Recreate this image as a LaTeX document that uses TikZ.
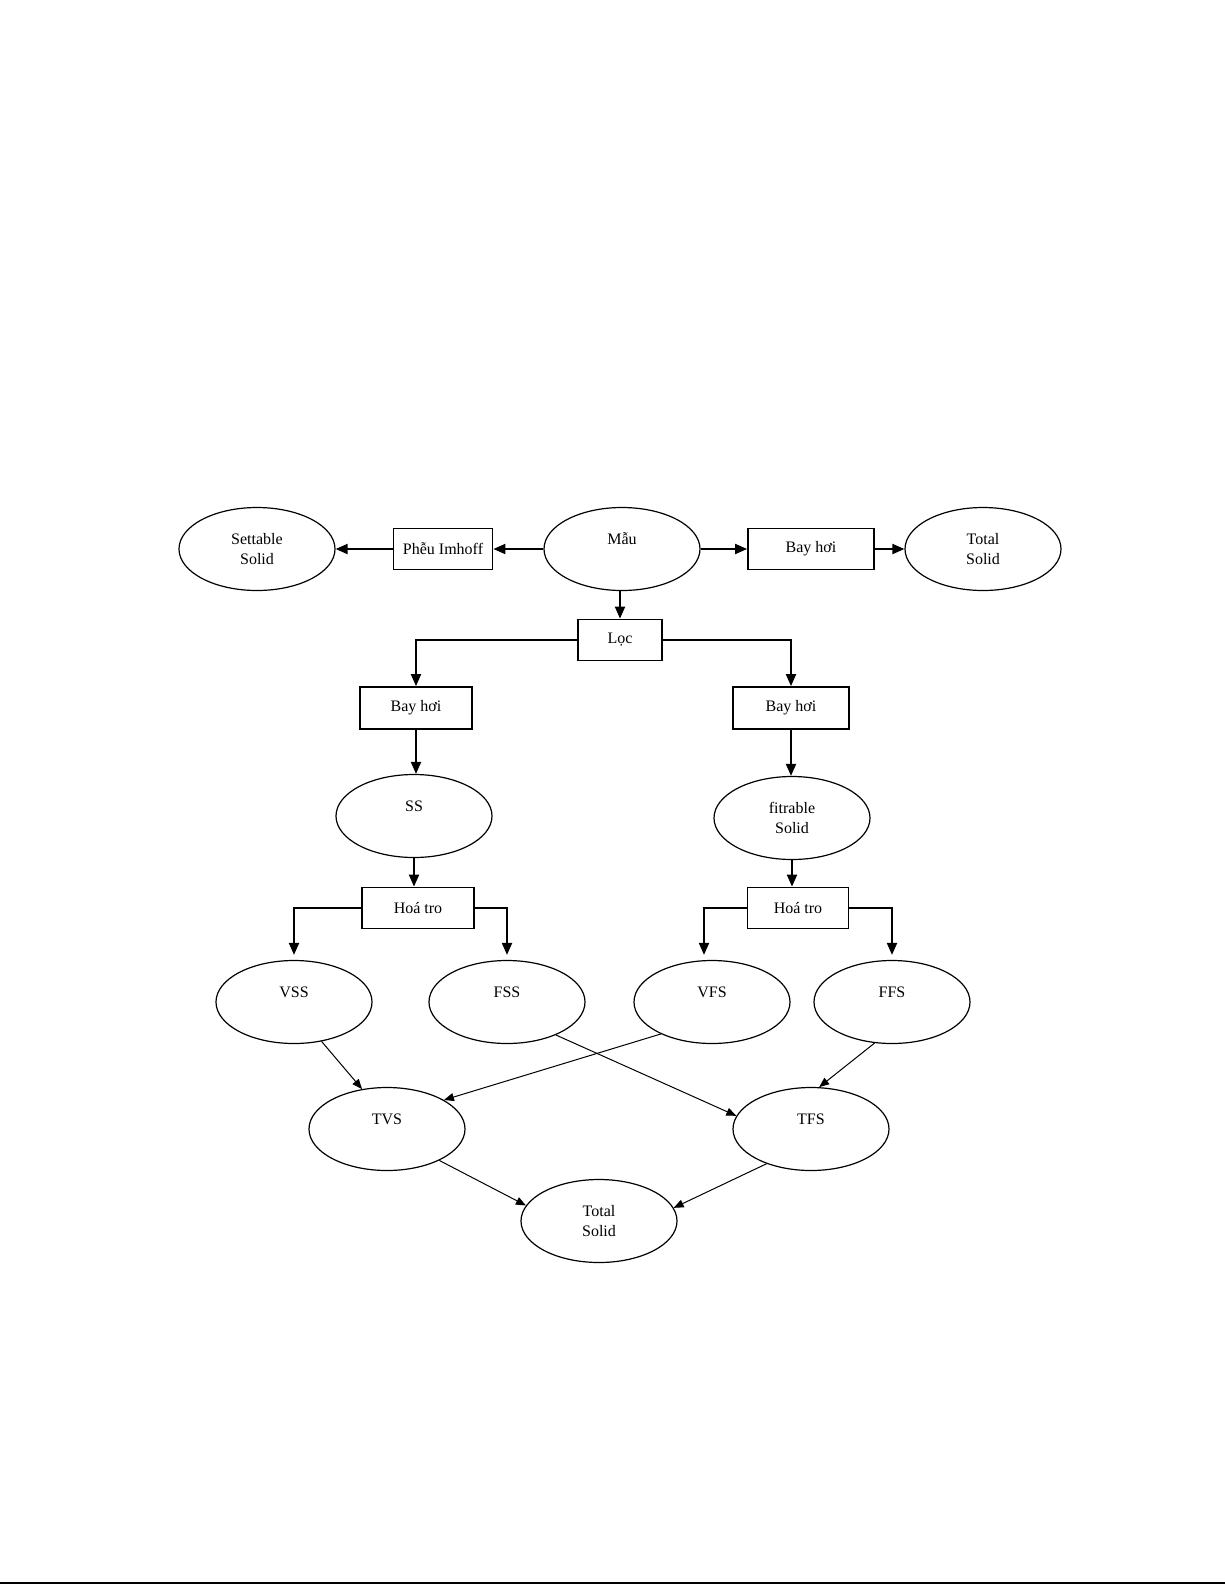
\documentclass[tikz,border=0pt]{standalone}
\usepackage{fontspec}
\setmainfont{Liberation Serif}
\usetikzlibrary{arrows.meta,shapes.geometric}

\begin{document}
\begin{tikzpicture}[x=0.5pt,y=-0.5pt,
    font=\fontsize{8}{10}\selectfont,
    oval/.style={draw,ellipse,line width=0.6pt,minimum width=78pt,minimum height=41.5pt,inner sep=0pt,align=center},
    stepbox/.style={draw,line width=0.9pt,minimum height=20.5pt,inner sep=0pt},
    flow/.style={line width=1pt,-{Triangle[length=6pt,width=5pt]}},
    thinflow/.style={line width=0.5pt,-{Triangle[length=5pt,width=4pt]}}]
    \useasboundingbox (0,0) rectangle (1225,1585);
    \node (settable) at (257,549) [oval] {Settable\\Solid};
    \node (pheu) at (443,549) [stepbox,minimum width=49.5pt] {Phễu Imhoff};
    \node (mau) at (622,549) [oval] {Mẫu\\\mbox{}};
    \node (bayTop) at (811,549) [stepbox,minimum width=63pt] {Bay hơi};
    \node (totalTop) at (983,549) [oval] {Total\\Solid};
    \node (loc) at (620,640) [stepbox,minimum width=42pt] {Lọc};
    \node (bayL) at (416,708) [stepbox,minimum width=56pt,minimum height=21pt] {Bay hơi};
    \node (bayR) at (791,708) [stepbox,minimum width=58pt,minimum height=21pt] {Bay hơi};
    \node (ss) at (414,816) [oval] {SS\\\mbox{}};
    \node (filt) at (792,818) [oval] {fitrable\\Solid};
    \node (hoaL) at (418,908) [stepbox,minimum width=56pt] {Hoá tro};
    \node (hoaR) at (798,908) [stepbox,minimum width=50.5pt] {Hoá tro};
    \node (vss) at (294,1002) [oval] {VSS\\\mbox{}};
    \node (fss) at (507,1002) [oval] {FSS\\\mbox{}};
    \node (vfs) at (712,1002) [oval] {VFS\\\mbox{}};
    \node (ffs) at (892,1002) [oval] {FFS\\\mbox{}};
    \node (tvs) at (387,1129) [oval] {TVS\\\mbox{}};
    \node (tfs) at (811,1129) [oval] {TFS\\\mbox{}};
    \node (totalBot) at (599,1221) [oval] {Total\\Solid};
    \draw[flow] (mau.west) -- (pheu.east);
    \draw[flow] (pheu.west) -- (settable.east);
    \draw[flow] (mau.east) -- (bayTop.west);
    \draw[flow] (bayTop.east) -- (totalTop.west);
    \draw[flow] (loc.north |- mau.south) -- (loc.north);
    \draw[flow] (loc.west) -| (bayL.north);
    \draw[flow] (loc.east) -| (bayR.north);
    \draw[flow] (bayL.south) -- (bayL.south |- ss.north);
    \draw[flow] (bayR.south) -- (bayR.south |- filt.north);
    \draw[flow] (ss.south) -- (ss.south |- hoaL.north);
    \draw[flow] (filt.south) -- (filt.south |- hoaR.north);
    \draw[flow,shorten >=2.5pt] (hoaL.west) -| (vss.north);
    \draw[flow,shorten >=2.5pt] (hoaL.east) -| (fss.north);
    \draw[flow,shorten >=2.5pt] (hoaR.west) -| ([xshift=-4pt]vfs.north);
    \draw[flow,shorten >=2.5pt] (hoaR.east) -| (ffs.north);
    \draw[thinflow] (vss.-55) -- (tvs.122);
    \draw[thinflow] (vfs.212) -- (tvs.27);
    \draw[thinflow] (fss.-34) -- (tfs.170);
    \draw[thinflow] (ffs.247) -- (tfs.79);
    \draw[thinflow] (tvs.-31) -- (totalBot.168);
    \draw[thinflow] (tfs.218) -- (totalBot.10);
    \draw[line width=1pt] (0,1583) -- (1225,1583);
\end{tikzpicture}
\end{document}
